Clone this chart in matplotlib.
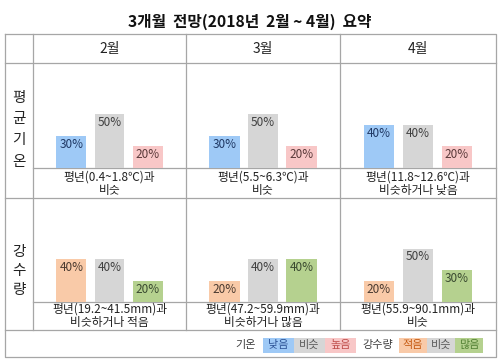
import matplotlib.pyplot as plt

plt.rcParams['font.family'] = ['Noto Sans CJK KR', 'DejaVu Sans']

months = ['2월', '3월', '4월']
temp_probs = [[30, 50, 20], [30, 50, 20], [40, 40, 20]]
rain_probs = [[40, 40, 20], [20, 40, 40], [20, 50, 30]]
temp_desc = ['평년(0.4~1.8℃)과\n비슷', '평년(5.5~6.3℃)과\n비슷',
             '평년(11.8~12.6℃)과\n비슷하거나 낮음']
rain_desc = ['평년(19.2~41.5mm)과\n비슷하거나 적음', '평년(47.2~59.9mm)과\n비슷하거나 많음',
             '평년(55.9~90.1mm)과\n비슷']
temp_cats = ['낮음', '비슷', '높음']
rain_cats = ['적음', '비슷', '많음']

temp_colors = ['#9ec9f6', '#d6d6d6', '#f8c7c7']
rain_colors = ['#f9caa8', '#d6d6d6', '#b5d18f']
temp_txt = ['#1f3864', '#404040', '#5a3a3a']
rain_txt = ['#4a3a30', '#404040', '#3a4a30']
legend_temp_txt = ['#2f5597', '#595959', '#c0504d']
legend_rain_txt = ['#c55a11', '#595959', '#548235']

W, H = 500, 364
fig = plt.figure(figsize=(W / 100, H / 100), dpi=100)
bg = fig.add_axes([0, 0, 1, 1])
bg.set_xlim(0, W)
bg.set_ylim(H, 0)
bg.axis('off')

lc = '#a6a6a6'
lw = 0.9
cols = [33, 186, 340, 496]

# table frame
bg.plot([5, 496, 496, 5, 5], [34, 34, 357, 357, 34], color=lc, lw=lw)
for y in [63, 198, 330]:
    bg.plot([5, 496], [y, y], color=lc, lw=lw)
for x in cols[:-1]:
    bg.plot([x, x], [34, 330], color=lc, lw=lw)
for y in [168, 302]:
    bg.plot([33, 496], [y, y], color=lc, lw=lw)

bg.text(250, 22, '3개월  전망(2018년  2월 ~ 4월)  요약', ha='center', va='center',
        fontsize=11.3, fontweight='bold', color='#111111')

for i, m in enumerate(months):
    cx = (cols[i] + cols[i + 1]) / 2
    bg.text(cx, 49, m, ha='center', va='center', fontsize=10, color='#222222')

for ch, y in zip('평균기온', [98, 119, 140, 162]):
    bg.text(19, y, ch, ha='center', va='center', fontsize=10.5, color='#222222')
for ch, y in zip('강수량', [252, 271, 290]):
    bg.text(19, y, ch, ha='center', va='center', fontsize=10.5, color='#222222')


def cell(i, base, probs, colors, tcolors, desc, ty, scale):
    x0, x1 = cols[i], cols[i + 1]
    h = 62
    ax = fig.add_axes([x0 / W, (H - base) / H, (x1 - x0) / W, h / H])
    ax.set_xlim(-1, 3)
    ax.set_ylim(0, h / scale)
    ax.axis('off')
    ax.patch.set_alpha(0)
    ax.bar(range(3), probs, width=0.78, color=colors)
    for k, v in enumerate(probs):
        ax.text(k, v - 8.5 / scale, f'{v}%', ha='center', va='center',
                fontsize=8.5, color=tcolors[k])
    bg.text((x0 + x1) / 2, ty, desc, ha='center', va='center', fontsize=8.5,
            color='#222222', linespacing=1.05)


for i in range(3):
    cell(i, 168, temp_probs[i], temp_colors, temp_txt, temp_desc[i], 184, 1.08)
    cell(i, 302, rain_probs[i], rain_colors, rain_txt, rain_desc[i], 315.5, 1.07)

# legend
bg.text(246, 345, '기온', ha='center', va='center', fontsize=8, color='#404040')
for k, (c, t, tc) in enumerate(zip(temp_colors, temp_cats, legend_temp_txt)):
    x = 263 + k * 31
    bg.add_patch(plt.Rectangle((x, 337.5), 31, 15, color=c, lw=0))
    bg.text(x + 15.5, 345, t, ha='center', va='center', fontsize=8, color=tc)
bg.text(378, 345, '강수량', ha='center', va='center', fontsize=8, color='#404040')
for k, (c, t, tc) in enumerate(zip(rain_colors, rain_cats, legend_rain_txt)):
    x = 399 + k * 28
    bg.add_patch(plt.Rectangle((x, 337.5), 28, 15, color=c, lw=0))
    bg.text(x + 14, 345, t, ha='center', va='center', fontsize=8, color=tc)

fig.savefig('out.png', dpi=100)
